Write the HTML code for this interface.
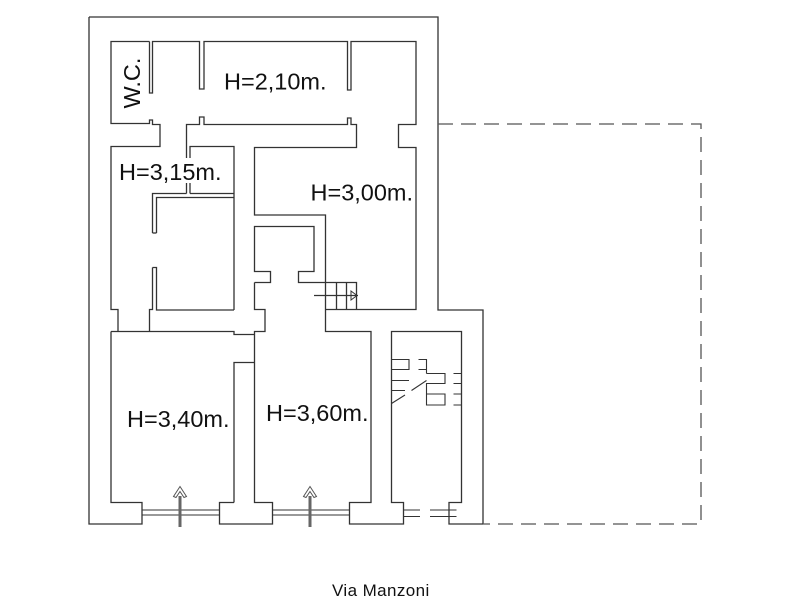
<!DOCTYPE html>
<html><head><meta charset="utf-8"><style>
html,body{margin:0;padding:0;background:#fff;}
svg{display:block;}
text{font-family:"Liberation Sans",Arial,sans-serif;fill:#111;}
</style></head><body>
<svg width="800" height="600" viewBox="0 0 800 600" xmlns="http://www.w3.org/2000/svg">
<g fill="none" stroke="#333" stroke-width="1.3" stroke-linejoin="miter">
<!-- outer walls -->
<path d="M89,17 H438 V310 H483 V524"/>
<path d="M89,17 V524 H142 V502.5 H111 V331.5"/>
<!-- top inner line and partitions -->
<path d="M149.5,41.5 H111 V123.5 H149.5 V120 H152.5 V124.5 H160 V146.5 H111 V309.5 H118 V331.5"/>
<path d="M149.5,41.5 V93 H152.5 V41.5 H199.5 V89 H204 V41.5 H347.5 V90 H351 V41.5 H416 V124.5 H398.5 V147.5 H416 V309.5 H325.5"/>
<!-- corridor lower wall and chain -->
<path d="M186.5,158 V124.5 H199.5 V117 H204 V124.5 H347.5 V118 H351 V124.5 H356.5 V147.5 H254.5 V215 H325.5 V331.5 H371 V502.5 H349.5 V524 H403.5 V502.5 H391.5 V331.5 H461.5 V502.5 H449 V524 H483"/>
<path d="M190,158 V146.5 H234 V310"/>
<!-- partition under text -->
<path d="M186.5,183 V193.5 M190,183 V193.5"/>
<!-- interior box -->
<path d="M152.5,233 V193.5 H186.5 M190,193.5 H234"/>
<path d="M156.5,233 V197.5 H234"/>
<path d="M152.5,233 H156.5"/>
<path d="M152.5,267.5 H156.5 V310 H234"/>
<path d="M152.5,267.5 V309.5 H149.5 V331.5"/>
<!-- room 3.40 top -->
<path d="M111,331.5 H234 V334.5 H254.5"/>
<path d="M234,502.5 V362.5 H254.5"/>
<path d="M254.5,282.5 V309.5 H265 V331.5 H254.5 V502.5 H272.5 V524 H219.5 V502.5 H234"/>
<!-- small box -->
<path d="M254.5,282.5 H270.5 V271.5 H254.5 V226.5 H314 V271.5 H298.5 V282.5 H356.5 V309.5"/>
<!-- stairs room 3.00 -->
<path d="M336.5,282.5 V309.5 M346.5,282.5 V309.5"/>
<path d="M314,295.5 H358"/>
<path d="M351,291 L357,295.5 L351,300 Z" stroke-width="1"/>
<!-- windows -->
<path d="M142,510 H219.5 M142,515 H219.5" stroke-width="1.1"/>
<path d="M272.5,510 H349.5 M272.5,515 H349.5" stroke-width="1.1"/>
<path d="M403.5,510 H420 M430,510 H456.5 M403.5,516.5 H420 M430,516.5 H456.5" stroke-width="1.1"/>
<!-- stair room stairs -->
<path d="M391.5,359.5 H409 V369.5 H391.5" stroke-width="1.1"/>
<path d="M391.5,380.5 H409 M391.5,390.5 H405" stroke-width="1.1"/>
<path d="M418.5,359.5 H426.5 V369.5 H418.5 M426.5,369.5 V373.5" stroke-width="1.1"/>
<path d="M426.5,373.5 H445 V383.5 H426.5 V405 H445 V394 H426.5" stroke-width="1.1"/>
<path d="M453.5,373.5 H461.5 M453.5,383.5 H461.5 M453.5,394 H461.5 M453.5,405 H461.5" stroke-width="1.1"/>
<path d="M391.5,403.5 L405,395 M411.5,390.5 L426.5,380.5" stroke-width="1.1"/>
<!-- dashed outline -->
<path d="M438,124 H701 V524 H483" stroke="#555" stroke-dasharray="15 8"/>
</g>
<!-- door arrows -->
<g>
<rect x="178.5" y="496" width="3" height="31" fill="#666"/>
<path d="M180,486.5 L186.5,496.5 L184,497.5 L180,491.5 L176,497.5 L173.5,496.5 Z" fill="#fff" stroke="#555" stroke-width="1"/>
<rect x="308.5" y="496" width="3" height="31" fill="#666"/>
<path d="M310,486.5 L316.5,496.5 L314,497.5 L310,491.5 L306,497.5 L303.5,496.5 Z" fill="#fff" stroke="#555" stroke-width="1"/>
</g>
<!-- labels -->
<text x="224" y="89.5" font-size="23.5">H=2,10m.</text>
<text transform="translate(140,108.5) rotate(-90)" font-size="23.5">W.C.</text>
<text x="119" y="180" font-size="23.5">H=3,15m.</text>
<text x="310.5" y="200.5" font-size="23.5">H=3,00m.</text>
<text x="127" y="427" font-size="23.5">H=3,40m.</text>
<text x="266" y="421" font-size="23.5">H=3,60m.</text>
<text x="332" y="596" font-size="17" letter-spacing="0.4">Via Manzoni</text>
</svg>
</body></html>
